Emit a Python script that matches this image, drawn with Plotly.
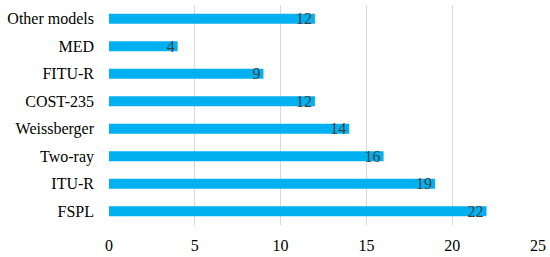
import plotly.graph_objects as go

models = ['FSPL', 'ITU-R', 'Two-ray', 'Weissberger', 'COST-235', 'FITU-R', 'MED', 'Other models']
counts = [22, 19, 16, 14, 12, 9, 4, 12]
x_ticks = [0, 5, 10, 15, 20, 25]

serif = "Liberation Serif, serif"

fig = go.Figure(go.Bar(
    x=counts,
    y=models,
    orientation='h',
    width=0.36,
    marker=dict(color='#00B0F0', line=dict(width=0)),
    text=counts,
    textposition='inside',
    insidetextanchor='end',
    textangle=0,
    textfont=dict(family=serif, size=16, color='#404040'),
    cliponaxis=False,
))

fig.update_layout(
    width=550,
    height=257,
    margin=dict(l=109, r=12, t=5, b=32),
    plot_bgcolor='white',
    paper_bgcolor='white',
    showlegend=False,
    font=dict(family=serif, size=16, color='#000'),
    uniformtext=dict(minsize=16, mode='show'),
    xaxis=dict(
        range=[0, 25],
        tickvals=x_ticks,
        automargin=False,
        showgrid=True,
        gridcolor='#d9d9d9',
        gridwidth=1,
        zeroline=False,
        showline=False,
        ticks='',
        ticklabelstandoff=9,
        tickfont=dict(family=serif, size=16, color='#000'),
    ),
    yaxis=dict(
        automargin=False,
        showgrid=False,
        showline=False,
        ticks='',
        ticklabelstandoff=14,
        tickfont=dict(family=serif, size=16, color='#000'),
    ),
)

# page has a default 8px body margin; drop it so the figure fills the window
fig.write_html(
    "out.html",
    config={'displayModeBar': False},
    post_script="document.body.style.margin='0';",
)
